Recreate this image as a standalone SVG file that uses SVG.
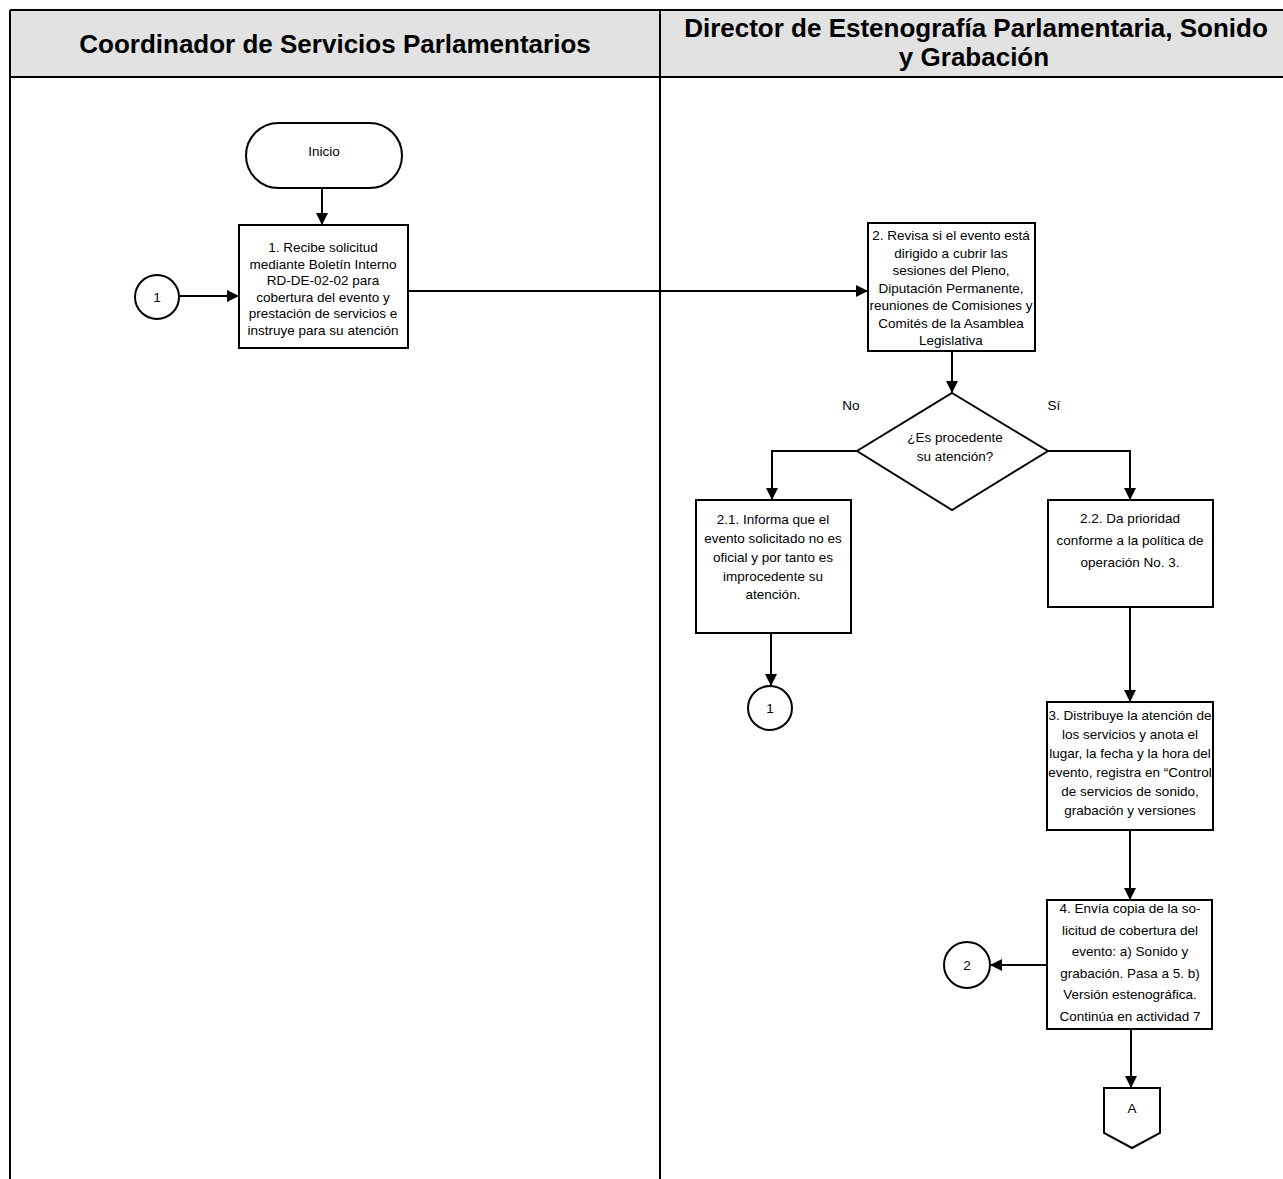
<svg xmlns="http://www.w3.org/2000/svg" width="1283" height="1179" viewBox="0 0 1283 1179">
<defs>
<marker id="arr" viewBox="0 0 12 12" refX="12" refY="6" markerWidth="12" markerHeight="12" markerUnits="userSpaceOnUse" orient="auto">
<path d="M0,0 L12,6 L0,12 z" fill="#000"/>
</marker>
<style>
.hdr{font-family:"Liberation Sans",Arial,sans-serif;font-weight:bold;font-size:26px;fill:#000;text-anchor:middle}
.t{font-family:"Liberation Sans",Arial,sans-serif;font-size:13.5px;fill:#000;text-anchor:middle}
.box{fill:#fff;stroke:#000;stroke-width:2}
.ln{fill:none;stroke:#000;stroke-width:2}
.con{fill:none;stroke:#000;stroke-width:2;marker-end:url(#arr)}
</style>
</defs>
<g id="frame">
<rect x="10" y="10" width="1290" height="67" fill="#e2e2e2"/>
<line class="ln" x1="10" y1="10" x2="1283" y2="10"/>
<line class="ln" x1="10" y1="77" x2="1283" y2="77" stroke-width="3"/>
<line class="ln" x1="10" y1="10" x2="10" y2="1179"/>
<line class="ln" x1="660" y1="10" x2="660" y2="1179"/>
<text class="hdr" x="335" y="53">Coordinador de Servicios Parlamentarios</text>
<text class="hdr" x="976" y="37">Director de Estenografía Parlamentaria, Sonido</text>
<text class="hdr" x="974" y="66">y Grabación</text>
</g>
<g id="connectors">
<path class="con" d="M322,188 L322,225"/>
<path class="con" d="M179,296 L239,296"/>
<path class="con" d="M408,291 L868,291"/>
<path class="con" d="M952,351 L952,393"/>
<path class="con" d="M857,451 L772,451 L772,500"/>
<path class="con" d="M1048,451 L1130,451 L1130,500"/>
<path class="con" d="M771,633 L771,686"/>
<path class="con" d="M1130,607 L1130,702"/>
<path class="con" d="M1130,830 L1130,900"/>
<path class="con" d="M1047,965 L990,965"/>
<path class="con" d="M1131,1029 L1131,1088"/>
</g>
<g id="inicio">
<rect class="box" x="246" y="123" width="156" height="65" rx="32.5" ry="32.5"/>
<text class="t" x="324" y="156">Inicio</text>
</g>
<g id="c1">
<circle class="box" cx="157" cy="297" r="22"/>
<text class="t" x="157" y="302">1</text>
</g>
<g id="n1">
<rect class="box" x="239" y="225" width="169" height="123"/>
<text class="t" x="323" y="252">1. Recibe solicitud</text>
<text class="t" x="323" y="268.5">mediante Boletín Interno</text>
<text class="t" x="323" y="285">RD-DE-02-02 para</text>
<text class="t" x="323" y="301.5">cobertura del evento y</text>
<text class="t" x="323" y="318">prestación de servicios e</text>
<text class="t" x="323" y="334.5">instruye para su atención</text>
</g>
<g id="n2">
<rect class="box" x="868" y="223" width="167" height="128"/>
<text class="t" x="951" y="240">2. Revisa si el evento está</text>
<text class="t" x="951" y="257.5">dirigido a cubrir las</text>
<text class="t" x="951" y="275">sesiones del Pleno,</text>
<text class="t" x="951" y="292.5">Diputación Permanente,</text>
<text class="t" x="951" y="310">reuniones de Comisiones y</text>
<text class="t" x="951" y="327.5">Comités de la Asamblea</text>
<text class="t" x="951" y="345">Legislativa</text>
</g>
<g id="d1">
<polygon class="box" points="952,393 1048,451 952,510 857,451"/>
<text class="t" x="955" y="442">¿Es procedente</text>
<text class="t" x="955" y="461">su atención?</text>
<text class="t" x="851" y="410">No</text>
<text class="t" x="1054" y="410">Sí</text>
</g>
<g id="n21">
<rect class="box" x="696" y="500" width="155" height="133"/>
<text class="t" x="773" y="524">2.1. Informa que el</text>
<text class="t" x="773" y="543">evento solicitado no es</text>
<text class="t" x="773" y="562">oficial y por tanto es</text>
<text class="t" x="773" y="581">improcedente su</text>
<text class="t" x="773" y="599">atención.</text>
</g>
<g id="c1b">
<circle class="box" cx="770" cy="708" r="22"/>
<text class="t" x="770" y="713">1</text>
</g>
<g id="n22">
<rect class="box" x="1048" y="500" width="165" height="107"/>
<text class="t" x="1130" y="523">2.2.  Da prioridad</text>
<text class="t" x="1130" y="545">conforme a la política de</text>
<text class="t" x="1130" y="567">operación No. 3.</text>
</g>
<g id="n3">
<rect class="box" x="1047" y="702" width="166" height="128"/>
<text class="t" x="1130" y="720">3. Distribuye la atención de</text>
<text class="t" x="1130" y="739">los servicios y anota el</text>
<text class="t" x="1130" y="758">lugar, la fecha y la hora del</text>
<text class="t" x="1130" y="777">evento, registra en “Control</text>
<text class="t" x="1130" y="796">de servicios de sonido,</text>
<text class="t" x="1130" y="815">grabación y versiones</text>
</g>
<g id="n4">
<rect class="box" x="1047" y="900" width="165" height="129"/>
<text class="t" x="1130" y="913">4. Envía copia de la so-</text>
<text class="t" x="1130" y="934.5">licitud de cobertura del</text>
<text class="t" x="1130" y="956">evento: a) Sonido y</text>
<text class="t" x="1130" y="977.5">grabación. Pasa a 5. b)</text>
<text class="t" x="1130" y="999">Versión estenográfica.</text>
<text class="t" x="1130" y="1020.5">Continúa en actividad 7</text>
</g>
<g id="c2">
<circle class="box" cx="967" cy="965" r="23"/>
<text class="t" x="967" y="970">2</text>
</g>
<g id="offA">
<polygon class="box" points="1104,1088 1160,1088 1160,1133 1132,1148 1104,1133"/>
<text class="t" x="1132" y="1113">A</text>
</g>
</svg>
